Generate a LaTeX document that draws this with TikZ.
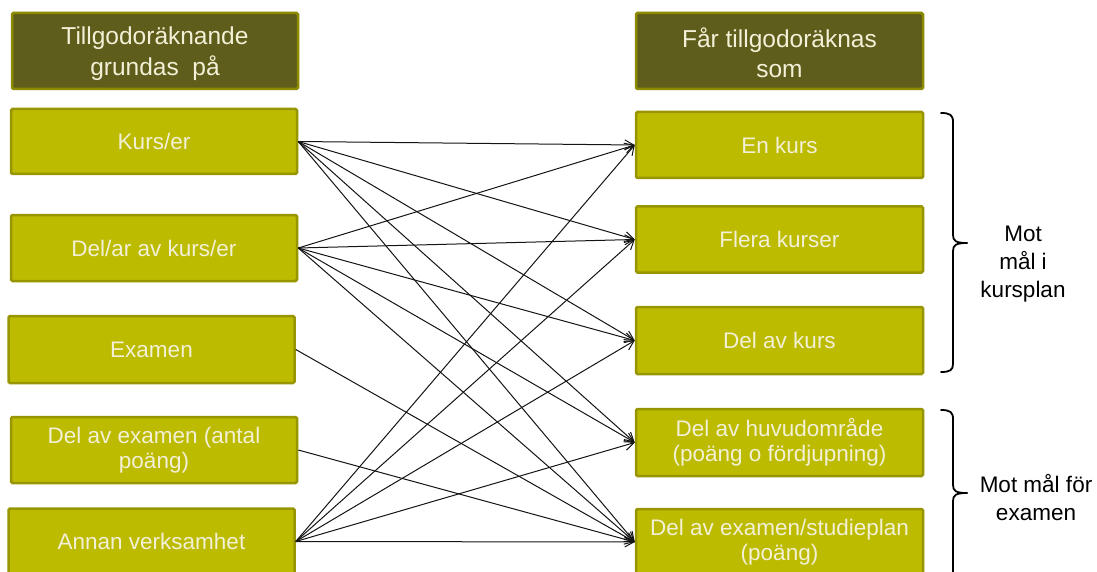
\documentclass[tikz,border=0pt]{standalone}
\usepackage{fontspec}
\setmainfont{Liberation Sans}
\usetikzlibrary{arrows.meta}
\definecolor{boxfill}{HTML}{BDBB00}
\definecolor{boxline}{HTML}{979600}
\definecolor{headfill}{HTML}{5E5D1B}
\definecolor{headline}{HTML}{8C8B00}
\definecolor{boxtext}{HTML}{F2F0D6}
\begin{document}
\begin{tikzpicture}[x=1pt,y=-1pt,
  box/.style={draw=boxline, fill=boxfill, line width=2.5pt, rounded corners=1.5pt,
    text=boxtext, font=\fontsize{22.5}{25}\selectfont, align=center, inner sep=0pt,
    minimum width=286pt, minimum height=65pt},
  head/.style={box, draw=headline, fill=headfill, font=\fontsize{24.5}{27}\selectfont, minimum height=76pt},
  link/.style={draw=black!92, line width=1pt, -{Straight Barb[length=9pt,width=10pt]}},
  brace/.style={line width=1.8pt, line cap=round},
  note/.style={font=\fontsize{22.5}{28}\selectfont, align=center, inner sep=0pt}]
\useasboundingbox (0,0) rectangle (1097,572);
\clip (0,0) rectangle (1097,572);
% left column
\node[head] (hl) at (155,51) {};
\node[text=boxtext, font=\fontsize{24.5}{27}\selectfont, align=center, inner sep=0pt] (hlt) at (155,54) {Tillgodoräknande\\[4pt]grundas~ på};
\node[box] (kurs) at (154,141.5) {Kurs/er};
\node[box, minimum height=66pt] (delar) at (154,248) {Del/ar av kurs/er};
\node[box, minimum height=67pt] (exam) at (151.5,349.5) {Examen};
\node[box, minimum height=66pt] (delex) at (154,450) {Del av examen (antal\\poäng)};
\node[box, minimum height=66pt] (annan) at (151.5,541.5) {Annan verksamhet};
% right column
\node[head, minimum width=287pt] (hr) at (779.5,51) {};
\node[text=boxtext, font=\fontsize{24.5}{27}\selectfont, align=center, inner sep=0pt] (hrt) at (779.5,53) {Får tillgodoräknas\\[3pt]som};
\node[box, minimum width=287pt, minimum height=66pt] (enk) at (779.5,145) {En kurs};
\node[box, minimum width=287pt, minimum height=66pt] (flera) at (779.5,239.5) {Flera kurser};
\node[box, minimum width=287pt, minimum height=67pt] (delk) at (779.5,340.5) {Del av kurs};
\node[box, minimum width=287pt, minimum height=67pt] (huv) at (779.5,442.5) {Del av huvudområde\\(poäng o fördjupning)};
\node[box, minimum width=287pt, minimum height=66pt] (dexs) at (779.5,542) {Del av examen/studieplan\\(poäng)};
% connectors
\foreach \t in {enk,flera,delk,huv,dexs}{
  \draw[link] (kurs.east) -- (\t.west);
  \draw[link] (delar.east) -- (\t.west);
  \draw[link] (annan.east) -- (\t.west);
}
\draw[link] (exam.east) -- (dexs.west);
\draw[link] (delex.east) -- (dexs.west);
% braces
\draw[brace] (941,113) .. controls (950,113) and (953,115) .. (953,122) -- (953,235)
  .. controls (953,241) and (956,243) .. (967,243);
\draw[brace] (967,243) .. controls (956,243) and (953,245) .. (953,251) -- (953,364)
  .. controls (953,370) and (950,372) .. (941,372);
\draw[brace] (941,410) .. controls (950,410) and (953,412) .. (953,419) -- (953,485)
  .. controls (953,491) and (956,493) .. (967,493);
\draw[brace] (967,493) .. controls (956,493) and (953,495) .. (953,501) -- (953,590);
% notes
\node[note] (n1) at (1023,264) {Mot\\mål i\\kursplan};
\node[note] (n2) at (1036,498) {Mot mål för\\examen};
\end{tikzpicture}
\end{document}
